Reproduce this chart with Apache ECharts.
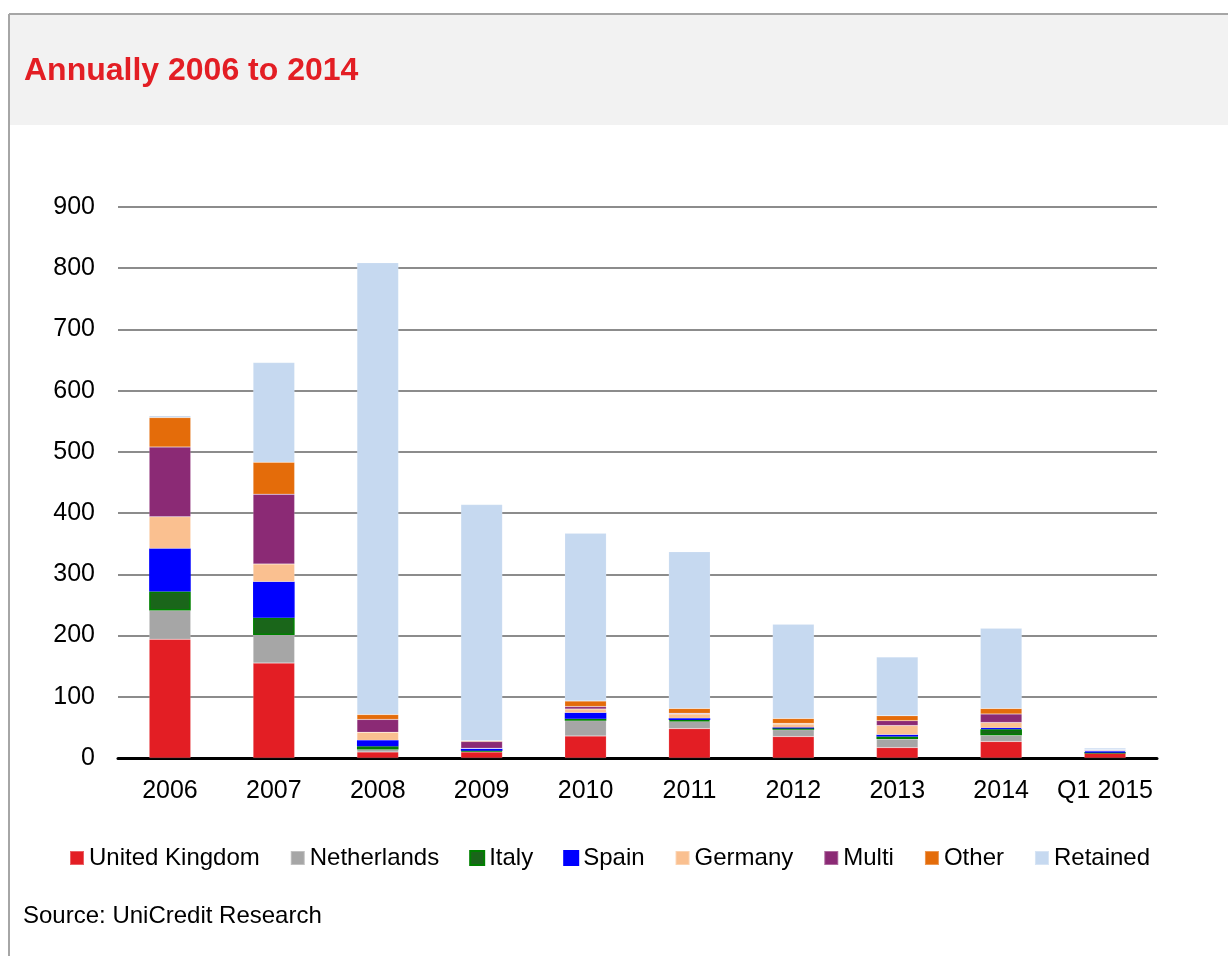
<!DOCTYPE html>
<html>
<head>
<meta charset="utf-8">
<script src="https://cdn.jsdelivr.net/npm/echarts@6/dist/echarts.min.js"></script>
<style>
html,body{margin:0;padding:0;background:#fff;}
#chart{width:1228px;height:956px;}
</style>
</head>
<body>
<div id="chart"></div>
<script>
const categories = ['2006','2007','2008','2009','2010','2011','2012','2013','2014','Q1 2015'];
const unitedKingdom = [194, 155, 10, 10, 36, 48, 35, 17, 27, 8];
const netherlands   = [47, 46, 4, 1, 25, 12, 11, 14, 10, 0.5];
const italy         = [31, 28, 5, 1, 3, 2, 3, 4, 10, 0.5];
const spain         = [70, 59, 10, 3, 10, 3, 0.5, 3, 2, 2];
const germany       = [52, 29, 13, 1, 6, 7, 6, 15, 9, 1];
const multi         = [114, 114, 21, 11, 4, 1, 1, 8, 14, 1];
const other         = [48, 52, 8, 1, 9, 8, 8, 8, 9, 0.5];
const retained      = [3, 163, 738, 386, 274, 256, 154, 96, 131, 3];

const FONT = '"Liberation Sans", Arial, sans-serif';

const seriesDefs = [
  {name:'United Kingdom', data:unitedKingdom, color:'#e31e24'},
  {name:'Netherlands', data:netherlands, color:'#a6a6a6'},
  {name:'Italy', data:italy, color:'#1a661a', border:'#008000'},
  {name:'Spain', data:spain, color:'#0000ff', border:'#0000ff'},
  {name:'Germany', data:germany, color:'#fac090'},
  {name:'Multi', data:multi, color:'#8b2a75'},
  {name:'Other', data:other, color:'#e46c0a'},
  {name:'Retained', data:retained, color:'#c6d9f0'}
];

const chart = echarts.init(document.getElementById('chart'), null, {renderer:'canvas'});
chart.setOption({
  animation:false,
  backgroundColor:'#ffffff',
  graphic:[
    {type:'rect', shape:{x:9, y:14, width:1219, height:111}, style:{fill:'#f2f2f2'}, z:-10},
    {type:'line', shape:{x1:9, y1:14, x2:1228, y2:14}, style:{stroke:'#a6a6a6', lineWidth:2}, z:-5},
    {type:'line', shape:{x1:9, y1:14, x2:9, y2:956}, style:{stroke:'#a6a6a6', lineWidth:2}, z:-5},
    {type:'text', left:24, top:55, style:{text:'Annually 2006 to 2014', fill:'#e31e24', font:'bold 32px ' + FONT}},
    {type:'text', left:23, top:904, style:{text:'Source: UniCredit Research', fill:'#000000', font:'24px ' + FONT}}
  ],
  grid:{left:118, right:71, top:207, bottom:198, containLabel:false},
  legend:{
    data:seriesDefs.map(s=>s.name),
    left:64, top:841,
    icon:'rect', itemWidth:14, itemHeight:14, itemGap:30,
    textStyle:{fontSize:24, color:'#000', fontFamily:FONT}
  },
  xAxis:{
    type:'category', data:categories,
    axisLine:{lineStyle:{color:'#000', width:3}},
    axisTick:{show:false},
    axisLabel:{interval:0, fontSize:25, color:'#000', fontFamily:FONT, margin:21}
  },
  yAxis:{
    type:'value', min:0, max:900, interval:100,
    axisLine:{show:false}, axisTick:{show:false},
    splitLine:{lineStyle:{color:'#8c8c8c', width:2}},
    axisLabel:{fontSize:25, color:'#000', fontFamily:FONT, margin:23}
  },
  series:seriesDefs.map(s=>({
    name:s.name, type:'bar', stack:'total', data:s.data,
    barWidth:'40%',
    itemStyle:{color:s.color, borderColor:s.border || 'rgba(255,255,255,0.3)', borderWidth:s.border ? 1.5 : 0.5}
  }))
});
</script>
</body>
</html>
